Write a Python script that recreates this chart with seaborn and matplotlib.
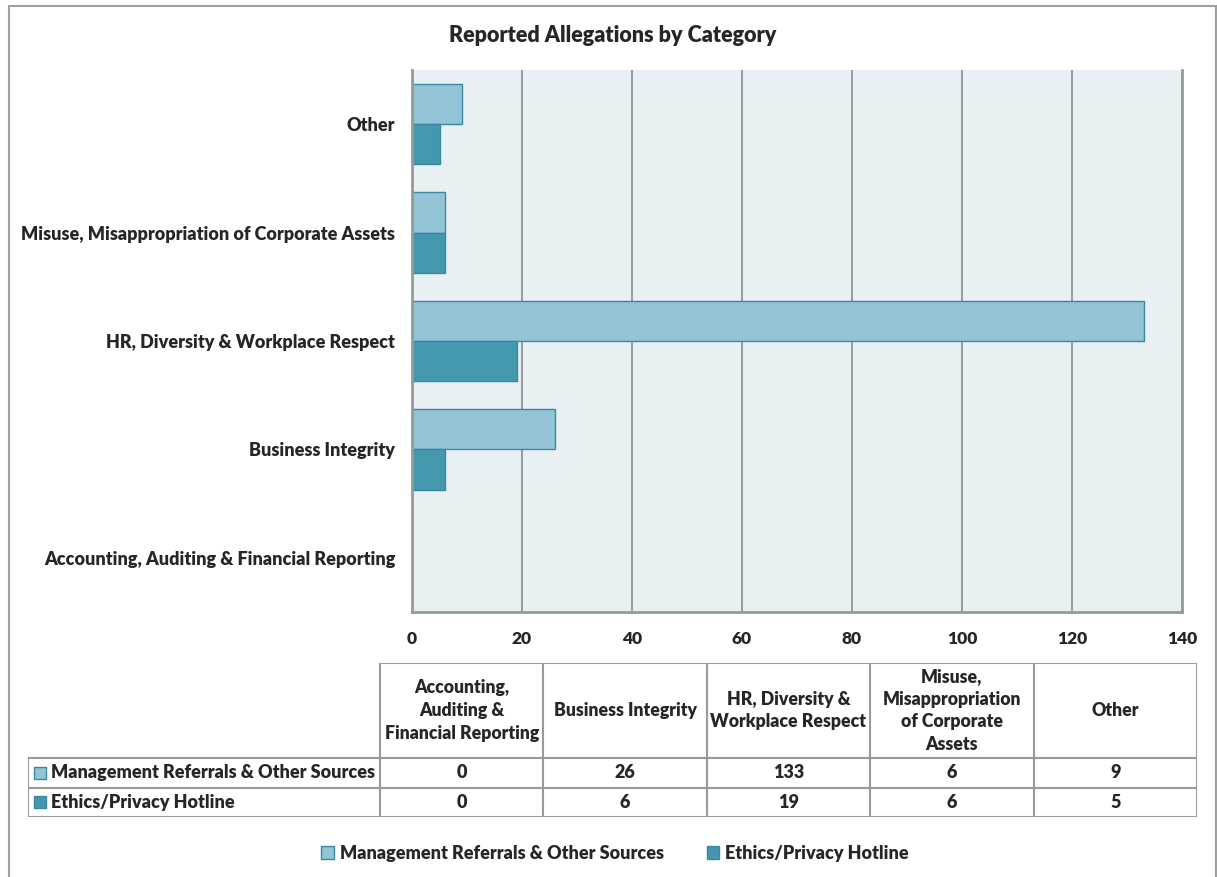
import numpy as np
import pandas as pd
import matplotlib.pyplot as plt
from matplotlib.patches import Rectangle
import seaborn as sns

# dati del grafico
categories = ["Accounting, Auditing & Financial Reporting", "Business Integrity",
              "HR, Diversity & Workplace Respect", "Misuse, Misappropriation of Corporate Assets",
              "Other"]
table_headers = ["Accounting,\nAuditing &\nFinancial Reporting", "Business Integrity",
                 "HR, Diversity &\nWorkplace Respect", "Misuse,\nMisappropriation\nof Corporate\nAssets",
                 "Other"]
series = ["Management Referrals & Other Sources", "Ethics/Privacy Hotline"]
mgmt_values = [0, 26, 133, 6, 9]
hotline_values = [0, 6, 19, 6, 5]
xticks = [0, 20, 40, 60, 80, 100, 120, 140]

light = "#93c4d5"
dark = "#4398ae"
edge = "#3a89a2"
grid_col = "#8c8c8c"
FS = 13
FW = "heavy"

sns.set_theme(style="white")
plt.rcParams['font.family'] = ['Lato', 'DejaVu Sans']
plt.rcParams['font.weight'] = FW

df = pd.DataFrame({
    "category": categories * 2,
    "source": [series[0]] * 5 + [series[1]] * 5,
    "value": mgmt_values + hotline_values,
})

W, H = 1217, 877
fig = plt.figure(figsize=(W / 100, H / 100), dpi=100)

# bordo esterno
fig.add_artist(Rectangle((9 / W, -0.05), (1216 - 9) / W, 1 - 6 / H + 0.05,
                         transform=fig.transFigure, fill=False, edgecolor="#a0a0a0", lw=1.5))

ax = fig.add_axes([412 / W, 1 - 612 / H, (1182 - 412) / W, (612 - 70) / H])
order = categories[::-1]
sns.barplot(data=df, y="category", x="value", hue="source", order=order, hue_order=series,
            palette=[light, dark], orient="h", width=0.74, edgecolor=edge, linewidth=1,
            saturation=1, ax=ax)
ax.set_facecolor("#e8f0f4")
ax.set_xlim(0, 140)
ax.set_xticks(xticks)
ax.set_xticklabels([str(t) for t in xticks], fontsize=12.5, fontweight=FW)
ax.set_yticks(range(len(order)))
ax.set_yticklabels(order, fontsize=FS, fontweight=FW)
ax.tick_params(axis="x", length=0, pad=14)
ax.tick_params(axis="y", length=0, pad=12)
ax.set_xlabel("")
ax.set_ylabel("")
ax.xaxis.grid(True, color=grid_col, lw=1.2)
ax.set_axisbelow(True)
for s in ["left", "bottom", "right"]:
    ax.spines[s].set_color("#999999")
    ax.spines[s].set_linewidth(2)
ax.spines["top"].set_visible(False)
handles, labels = ax.get_legend_handles_labels()
ax.get_legend().remove()

fig.text(613 / W, 1 - 35 / H, "Reported Allegations by Category", ha="center", va="center",
         fontsize=15.5, fontweight=FW)

# tabella dati (unita': colonne e righe)
lab_w = 352 / 163.4
hdr_h = 95 / 29.5
ncol = len(table_headers)
top = 2 + hdr_h
tax = fig.add_axes([28 / W, 1 - 817 / H, (1197 - 28) / W, (817 - 663) / H])
tax.set_xlim(-lab_w, ncol)
tax.set_ylim(0, top)
tax.axis("off")
lc = "#9a9a9a"
tax.hlines(top, 0, ncol, color=lc, lw=1.5)
tax.hlines([0, 1, 2], -lab_w, ncol, color=lc, lw=1.5)
tax.vlines(range(ncol + 1), 0, top, color=lc, lw=1.5)
tax.vlines(-lab_w, 0, 2, color=lc, lw=1.5)
for i, h in enumerate(table_headers):
    tax.text(i + 0.5, 2 + hdr_h / 2, h, ha="center", va="center", fontsize=12.7,
             fontweight=FW, linespacing=1.4)
for r, vals in enumerate([mgmt_values, hotline_values]):
    y = 1.5 - r
    for i, v in enumerate(vals):
        tax.text(i + 0.5, y, str(v), ha="center", va="center", fontsize=FS, fontweight=FW)
    tax.plot([-lab_w + 0.075], [y], marker="s", ms=9, color=[light, dark][r], mec=edge, mew=1,
             clip_on=False)
    tax.text(-lab_w + 0.14, y, series[r], ha="left", va="center", fontsize=FS, fontweight=FW)

fig.legend(handles, labels, loc="center", bbox_to_anchor=(615 / W, 1 - 853 / H), ncol=2,
           frameon=False, handlelength=0.7, handleheight=0.7,
           handletextpad=0.3, columnspacing=2.4, prop={"weight": FW, "size": FS})

fig.savefig("out.png", dpi=100)
